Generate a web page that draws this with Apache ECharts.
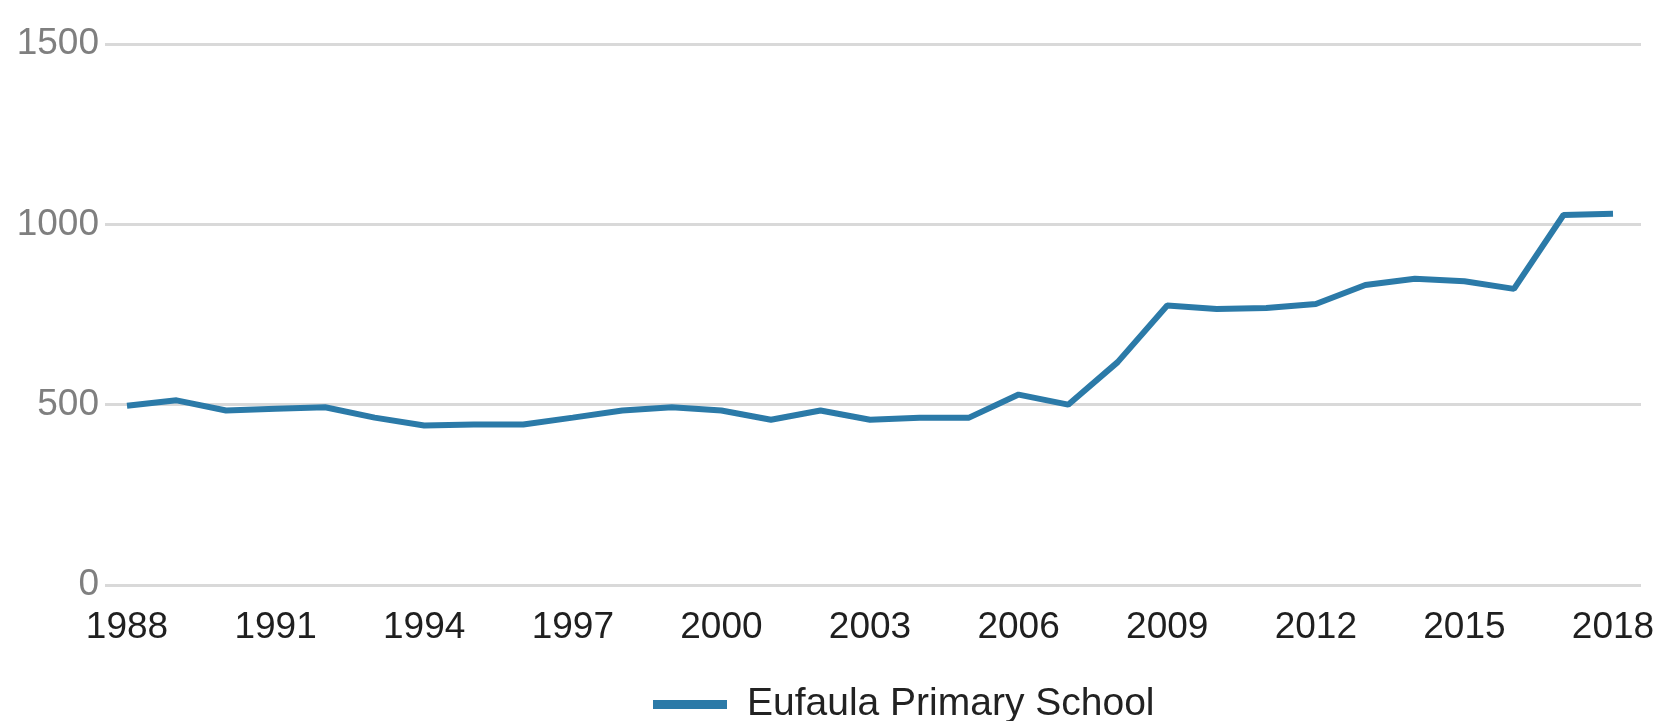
<!DOCTYPE html>
<html>
<head>
<meta charset="utf-8">
<script src="https://cdn.jsdelivr.net/npm/echarts@6/dist/echarts.min.js"></script>
<style>
html,body{margin:0;padding:0;background:#fff;}
#chart{width:1659px;height:721px;}
</style>
</head>
<body>
<div id="chart"></div>
<script>
const years = [1988,1989,1990,1991,1992,1993,1994,1995,1996,1997,1998,1999,2000,2001,2002,2003,2004,2005,2006,2007,2008,2009,2010,2011,2012,2013,2014,2015,2016,2017,2018];
const students = [497,512,484,489,493,464,442,445,445,464,484,493,484,458,484,458,464,464,528,500,618,775,765,768,779,832,849,842,821,1026,1029];
const xTickLabels = [1988,1991,1994,1997,2000,2003,2006,2009,2012,2015,2018];
const yTicks = [0,500,1000,1500];
const seriesName = 'Eufaula Primary School';

const chart = echarts.init(document.getElementById('chart'));
chart.setOption({
  animation: false,
  backgroundColor: '#ffffff',
  grid: {left: 105, right: 18, top: 44, bottom: 136},
  legend: {
    left: 648, top: 680,
    itemWidth: 74, itemHeight: 9,
    icon: 'rect',
    data: [seriesName],
    textStyle: {fontFamily: 'Liberation Sans', fontSize: 39, color: '#222', padding: [0,0,0,15]}
  },
  xAxis: {
    type: 'value',
    min: 1987.556, max: 2018.565,
    axisLine: {show: false},
    axisTick: {show: false},
    splitLine: {show: false},
    axisLabel: {
      customValues: xTickLabels,
      margin: 24,
      fontFamily: 'Liberation Sans', fontSize: 37, color: '#1f1f1f',
      formatter: v => String(v)
    }
  },
  yAxis: {
    type: 'value',
    min: yTicks[0], max: yTicks[yTicks.length-1], interval: 500,
    axisLine: {show: false},
    axisTick: {show: false},
    splitLine: {lineStyle: {color: '#d9d9d9', width: 3}},
    axisLabel: {margin: 6, fontFamily: 'Liberation Sans', fontSize: 37, color: '#7f7f7f', formatter: v => String(v)}
  },
  series: [{
    name: seriesName,
    type: 'line',
    data: years.map((y, i) => [y, students[i]]),
    showSymbol: false,
    symbol: 'none',
    lineStyle: {color: '#2b7aa8', width: 6},
    itemStyle: {color: '#2b7aa8'}
  }]
});
</script>
</body>
</html>
